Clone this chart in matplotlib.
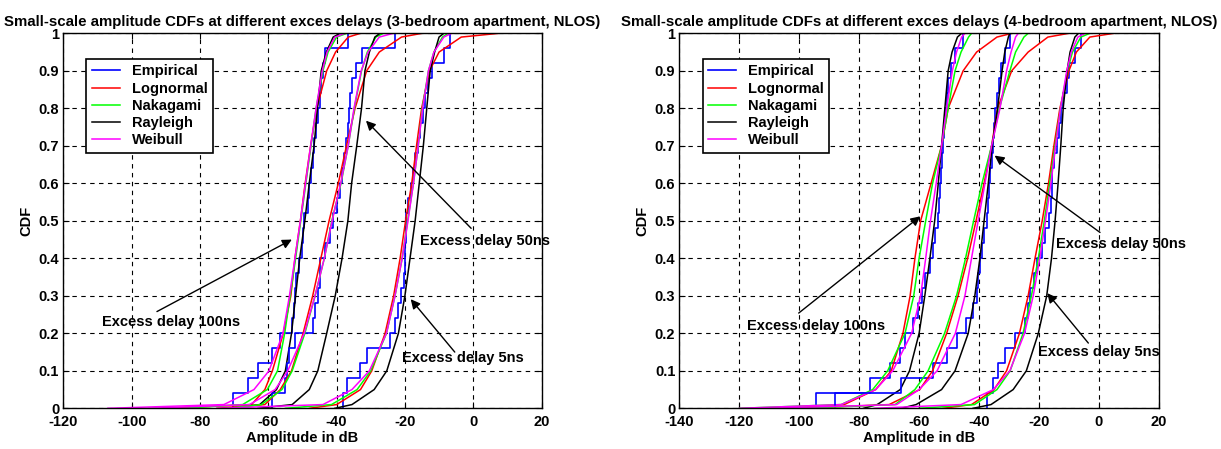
import numpy as np
import matplotlib
matplotlib.use("Agg")
import matplotlib.pyplot as plt

plt.rcParams['font.family'] = ['Liberation Sans', 'DejaVu Sans']
plt.rcParams['font.weight'] = 'bold'
plt.rcParams['axes.unicode_minus'] = False

levels = [0, 0.01, 0.05, 0.1, 0.2, 0.3, 0.4, 0.5, 0.6, 0.7, 0.8, 0.9, 0.95, 0.99, 1.0]

delays = ['100ns', '50ns', '5ns']
models = ['Lognormal', 'Nakagami', 'Rayleigh', 'Weibull']

# ---- 3-bedroom apartment (left) ----
emp3 = {
    '100ns': [-70.2, -66.0, -62.9, -58.9, -56.6, -53.1, -52.5, -52.2, -52.0, -51.0, -50.2, -49.7, -49.5,
              -48.5, -48.0, -47.5, -47.0, -46.6, -46.0, -45.5, -44.9, -44.5, -44.0, -43.4, -36.6],
    '50ns': [-58.9, -55.0, -54.6, -54.0, -52.2, -46.8, -46.3, -45.5, -44.9, -44.9, -43.4, -41.9, -41.0,
             -40.0, -39.0, -38.3, -37.8, -37.3, -36.8, -36.4, -36.0, -35.4, -34.3, -32.6, -22.9],
    '5ns': [-38.0, -37.0, -33.1, -31.2, -24.4, -22.9, -22.0, -21.2, -20.4, -20.0, -19.9, -19.8, -19.7,
            -19.0, -18.2, -17.5, -16.9, -16.3, -15.5, -14.8, -14.0, -13.1, -12.0, -8.6, -6.9],
}
lognormal3 = {
    '100ns': [-90, -64.9, -61.0, -58.8, -55.6, -53.4, -52.2, -50.6, -49.2, -47.6, -45.8, -42.9, -40.3, -36.6, -33.0],
    '50ns': [-75, -61.0, -56.5, -53.2, -49.8, -47.0, -44.6, -42.2, -39.5, -37.1, -34.6, -31.2, -27.5, -21.0, -15.0],
    '5ns': [-48, -40.0, -33.0, -29.7, -25.8, -23.3, -21.4, -19.8, -18.0, -16.6, -15.1, -12.8, -10.0, -3.5, 7.5],
}
nakagami3 = {
    '100ns': [-85, -67.5, -60.3, -57.3, -55.2, -53.6, -52.0, -50.5, -49.0, -47.5, -46.0, -44.0, -42.5, -40.0, -37.0],
    '50ns': [-72, -62.0, -56.0, -53.0, -49.3, -46.3, -43.6, -41.4, -38.7, -36.6, -34.8, -32.7, -31.0, -28.5, -26.3],
    '5ns': [-55, -41.5, -34.0, -30.0, -25.4, -22.9, -20.8, -19.2, -17.5, -16.1, -14.9, -13.1, -11.5, -9.0, -7.4],
}
rayleigh3 = {
    '100ns': [-72, -62.5, -57.6, -55.0, -53.2, -52.0, -50.8, -49.3, -48.0, -46.6, -45.6, -44.5, -43.0, -41.0, -39.0],
    '50ns': [-63, -53.0, -48.0, -45.5, -42.9, -40.4, -38.4, -36.7, -35.6, -34.1, -32.7, -31.7, -30.4, -28.8, -27.3],
    '5ns': [-40.5, -35.5, -29.0, -25.3, -21.9, -20.0, -18.5, -17.0, -15.8, -14.6, -13.6, -12.6, -11.3, -10.0, -8.6],
}
weibull3 = {
    '100ns': [-107, -73.0, -64.2, -59.8, -55.7, -53.8, -52.2, -50.6, -49.1, -47.6, -46.0, -44.2, -42.8, -40.5, -37.5],
    '50ns': [-95, -65.5, -58.0, -54.3, -49.5, -46.3, -43.6, -41.3, -38.8, -36.6, -34.9, -32.8, -30.8, -27.5, -23.4],
    '5ns': [-75, -44.0, -35.5, -30.4, -25.4, -22.9, -20.8, -19.1, -17.5, -16.1, -14.8, -13.1, -11.5, -8.6, -6.3],
}

# ---- 4-bedroom apartment (right) ----
emp4 = {
    '100ns': [-94.5, -76.4, -69.7, -66.4, -64.7, -62.0, -60.3, -59.2, -58.0, -56.4, -55.5, -54.7, -53.6,
              -53.3, -53.0, -52.6, -52.2, -51.9, -51.6, -51.2, -50.8, -50.3, -49.5, -48.0, -45.3],
    '50ns': [-88.2, -66.1, -55.2, -50.8, -47.5, -44.2, -41.9, -40.8, -40.2, -39.7, -39.0, -38.5, -37.5,
             -37.0, -36.6, -36.2, -35.8, -35.4, -35.0, -34.5, -33.9, -33.3, -32.5, -31.4, -29.7],
    '5ns': [-37.5, -35.3, -33.6, -31.4, -28.0, -24.7, -23.6, -23.0, -21.5, -20.5, -19.1, -18.0, -16.5,
            -16.0, -15.7, -15.5, -14.8, -14.0, -13.3, -12.6, -11.8, -10.7, -9.8, -8.0, -6.1],
}
lognormal4 = {
    '100ns': [-105, -85.0, -74.5, -69.3, -65.4, -63.0, -61.4, -59.5, -56.0, -52.5, -50.3, -45.3, -40.8, -34.0, -29.0],
    '50ns': [-100, -70.0, -59.8, -55.5, -50.8, -47.0, -43.8, -41.0, -38.3, -35.8, -33.8, -29.1, -23.6, -17.0, -10.0],
    '5ns': [-52, -42.5, -35.0, -30.8, -26.5, -23.6, -21.3, -18.9, -16.8, -15.0, -13.0, -10.0, -7.5, -3.0, 5.0],
}
nakagami4 = {
    '100ns': [-120, -86.0, -75.5, -70.5, -64.7, -61.8, -60.0, -57.8, -55.5, -52.5, -50.3, -48.0, -46.0, -43.5, -42.5],
    '50ns': [-100, -68.0, -61.4, -57.0, -51.5, -47.5, -44.5, -41.8, -39.0, -35.8, -33.2, -29.7, -27.8, -25.0, -23.6],
    '5ns': [-60, -41.5, -34.0, -29.6, -25.3, -22.5, -20.2, -18.2, -16.4, -14.6, -12.8, -10.5, -8.8, -6.0, -3.0],
}
rayleigh4 = {
    '100ns': [-78.6, -74.0, -66.3, -63.2, -60.0, -58.1, -56.4, -54.8, -53.6, -52.5, -51.4, -50.3, -49.0, -47.2, -45.8],
    '50ns': [-66, -61.0, -52.5, -48.0, -43.6, -41.4, -39.7, -38.3, -36.9, -35.6, -33.8, -32.3, -31.4, -30.2, -29.7],
    '5ns': [-42, -36.0, -28.6, -24.2, -20.2, -17.4, -15.8, -14.6, -13.6, -12.7, -11.9, -10.6, -9.6, -8.0, -6.8],
}
weibull4 = {
    '100ns': [-120, -86.0, -74.5, -68.8, -62.5, -59.5, -57.8, -56.2, -54.3, -52.5, -50.8, -48.9, -47.5, -45.8, -44.7],
    '50ns': [-110, -67.5, -60.0, -54.0, -47.9, -44.7, -42.5, -40.3, -38.0, -35.8, -33.0, -30.8, -29.3, -27.8, -26.9],
    '5ns': [-75, -46.0, -35.2, -29.7, -24.8, -21.9, -19.7, -17.8, -16.0, -14.4, -12.8, -10.7, -9.2, -7.0, -4.5],
}

titles = ['Small-scale amplitude CDFs at different exces delays (3-bedroom apartment, NLOS)',
          'Small-scale amplitude CDFs at different exces delays (4-bedroom apartment, NLOS)']
xlims = [(-120, 20), (-140, 20)]

# annotation: text position, arrow tail, arrow head  (data coords)
notes3 = [('Excess delay 50ns', (-15.7, 0.447), (-0.6, 0.48), (-31.4, 0.767)),
          ('Excess delay 100ns', (-108.6, 0.229), (-92.6, 0.258), (-53.1, 0.45)),
          ('Excess delay 5ns', (-20.8, 0.133), (-5.4, 0.150), (-18.3, 0.291))]
notes4 = [('Excess delay 50ns', (-14.3, 0.438), (0.4, 0.469), (-34.8, 0.674)),
          ('Excess delay 100ns', (-117.3, 0.22), (-100.2, 0.254), (-59.6, 0.512)),
          ('Excess delay 5ns', (-20.4, 0.15), (-3.5, 0.174), (-17.2, 0.307))]

colors = {'Empirical': '#0000ff', 'Lognormal': '#ff0000', 'Nakagami': '#00ff00',
          'Rayleigh': '#000000', 'Weibull': '#ff00ff'}

fig = plt.figure(figsize=(12.21, 4.49), dpi=100)
ax1 = fig.add_axes([0.0519, 0.0906, 0.3916, 0.8352])
ax2 = fig.add_axes([0.5565, 0.0906, 0.3925, 0.8352])

panels = [
    (ax1, emp3, [lognormal3, nakagami3, rayleigh3, weibull3], notes3),
    (ax2, emp4, [lognormal4, nakagami4, rayleigh4, weibull4], notes4),
]

for i, (ax, emp, fits, notes) in enumerate(panels):
    for d in delays:
        s = np.sort(np.array(emp[d]))
        n = len(s)
        ax.step(np.r_[s[0], s], np.r_[0, np.arange(1, n + 1) / n], where='post',
                color=colors['Empirical'], lw=1.2, label='Empirical' if d == '100ns' else None)
        for name, fit in zip(models, fits):
            ax.plot(fit[d], levels, color=colors[name], lw=1.1,
                    label=name if d == '100ns' else None)

    ax.set_xlim(*xlims[i])
    ax.set_ylim(0, 1)
    ax.set_xticks(np.arange(xlims[i][0], 21, 20))
    ax.set_yticks(np.round(np.arange(0, 1.01, 0.1), 1))
    ax.set_yticklabels(['0', '0.1', '0.2', '0.3', '0.4', '0.5', '0.6', '0.7', '0.8', '0.9', '1'])
    ax.tick_params(direction='in', top=True, right=True, labelsize=10.5, length=4)
    ax.tick_params(axis='x', pad=5)
    ax.tick_params(axis='y', pad=3)
    for lab in ax.get_xticklabels() + ax.get_yticklabels():
        lab.set_fontweight('bold')
    ax.grid(True, color='black', linestyle=(0, (4, 4)), linewidth=0.8)
    for sp in ax.spines.values():
        sp.set_linewidth(1.0)
    ax.set_title(titles[i], fontsize=10.8, fontweight='bold', pad=5)
    ax.set_xlabel('Amplitude in dB', fontsize=10.5, fontweight='bold', labelpad=1)
    ax.set_ylabel('CDF', fontsize=10.5, fontweight='bold', labelpad=4)

    handles, labels = ax.get_legend_handles_labels()
    order = ['Empirical', 'Lognormal', 'Nakagami', 'Rayleigh', 'Weibull']
    hl = dict(zip(labels, handles))
    leg = ax.legend([hl[k] for k in order], order, loc='upper left', bbox_to_anchor=(0.033, 0.952),
                    fontsize=10.5, handlelength=1.9, handletextpad=0.8, labelspacing=0.22,
                    borderpad=0.4, fancybox=False, framealpha=1, edgecolor='black')
    leg.get_frame().set_linewidth(1.2)
    for t in leg.get_texts():
        t.set_fontweight('bold')

    for text, tpos, tail, head in notes:
        ax.text(tpos[0], tpos[1], text, fontsize=10.5, fontweight='bold', va='center', ha='left',
                clip_on=False, zorder=6)
        ax.annotate('', xy=head, xytext=tail,
                    arrowprops=dict(arrowstyle='-|>', color='black', lw=1.0,
                                    mutation_scale=14, shrinkA=0, shrinkB=0), zorder=6)

fig.savefig('out.png', dpi=100)
